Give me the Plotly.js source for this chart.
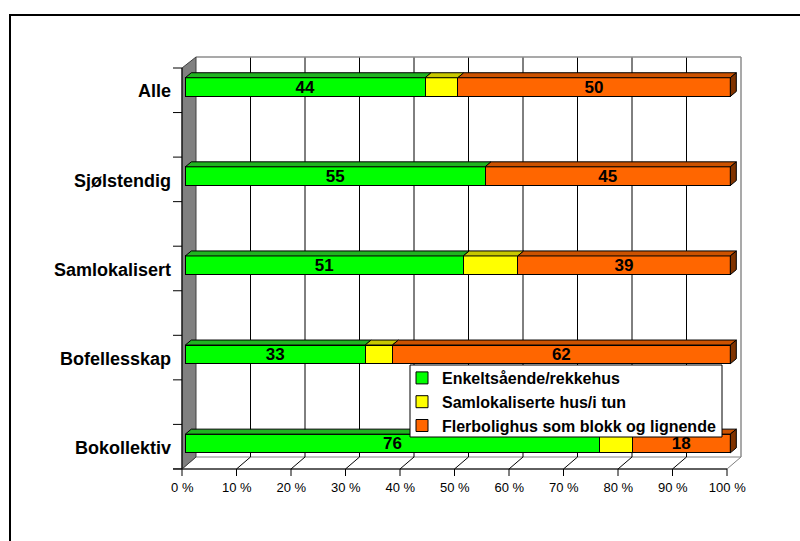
<!DOCTYPE html>
<html>
<head>
<meta charset="utf-8">
<script src="https://cdn.plot.ly/plotly-3.0.1.min.js"></script>
<style>html,body{margin:0;padding:0;background:#fff;}#chart{width:800px;height:541px;}</style>
</head>
<body>
<div id="chart"></div>
<script>
// ---- data ----
const categories = ['Alle', 'Sjølstendig', 'Samlokalisert', 'Bofellesskap', 'Bokollektiv'];
const enkeltsaende = [44, 55, 51, 33, 76];
const samlokaliserte = [6, 0, 10, 5, 6];
const flerbolighus = [50, 45, 39, 62, 18];
const seriesNames = ['Enkeltsående/rekkehus', 'Samlokaliserte hus/i tun', 'Flerbolighus som blokk og lignende'];
const tickValues = [0, 10, 20, 30, 40, 50, 60, 70, 80, 90, 100];
const tickLabels = ['0 %', '10 %', '20 %', '30 %', '40 %', '50 %', '60 %', '70 %', '80 %', '90 %', '100 %'];

// ---- styling ----
const FONT = 'Arial, "Liberation Sans", sans-serif';
const faceColors = ['#00ff00', '#ffff00', '#ff6600'];
const topColors = ['#20b420', '#c8c800', '#cc5200'];
const sideColor = '#803300';

const W = 800, H = 541, L = 182, R = 56, T = 57, B = 72;
const PW = W - L - R, PH = H - T - B;
const kx = 5.45, x0px = 185.3;        // px per percent, px of 0 %
const ky = 89.1, y0px = 443.5;        // px per category, px of first (bottom) category
const xRange = [(L - x0px) / kx, (W - R - x0px) / kx];
const yRange = [-(H - B - y0px) / ky, (y0px - T) / ky];
const BARW = 0.21;
const dxU = 6 / kx, dyU = 5 / ky;     // 3D depth offset of bars

const px = v => (v - L) / PW;         // pixel -> paper x
const py = v => (H - B - v) / PH;     // pixel -> paper y

const order = categories.slice().reverse();
const series = [enkeltsaende, samlokaliserte, flerbolighus];

const traces = series.map((vals, s) => ({
  type: 'bar',
  orientation: 'h',
  name: seriesNames[s],
  legendgroup: 'g' + s,
  y: categories,
  x: vals,
  width: BARW,
  marker: {color: faceColors[s], line: {color: '#000', width: 1}},
  text: s === 1 ? undefined : vals.map(String),
  textposition: s === 1 ? 'none' : 'inside',
  insidetextanchor: 'middle',
  textangle: 0,
  constraintext: 'none',
  insidetextfont: {family: FONT, size: 17, color: '#000', weight: 700},
  hoverinfo: 'skip'
}));

const shapes = [];
const pline = (x0, y0, x1, y1, color, width, layer) => shapes.push({
  type: 'line', xref: 'paper', yref: 'paper',
  x0: px(x0), y0: py(y0), x1: px(x1), y1: py(y1),
  line: {color: color, width: width}, layer: layer || 'below'
});
const ppath = (pts, fill, lineColor, layer) => shapes.push({
  type: 'path', xref: 'paper', yref: 'paper',
  path: 'M' + pts.map(p => px(p[0]) + ',' + py(p[1])).join('L') + 'Z',
  fillcolor: fill, line: {color: lineColor, width: 1}, layer: layer || 'below'
});

// outer frame
shapes.push({type: 'rect', xref: 'paper', yref: 'paper',
  x0: px(10), y0: py(15), x1: px(812), y1: py(560),
  line: {color: '#000', width: 2}, layer: 'below'});

// floor
ppath([[182, 469], [196, 457], [741, 457], [727, 469]], '#ffffff', '#808080');
// back wall gridlines
for (let k = 1; k < 10; k++) pline(196 + 54.5 * k, 457, 196 + 54.5 * k, 57, '#000', 1);
// back wall border
pline(196, 57, 741, 57, '#8c8c8c', 1.5);
pline(741, 57, 741, 457, '#8c8c8c', 1.5);
// floor diagonals and front ticks
for (let k = 0; k <= 10; k++) {
  if (k > 0 && k < 10) pline(182 + 54.5 * k, 469, 196 + 54.5 * k, 457, '#000', 1);
  pline(182 + 54.5 * k, 469, 182 + 54.5 * k, 476, '#000', 1);
}
pline(173, 469, 727, 469, '#000', 1);
// left wall
ppath([[182, 68], [196, 57], [196, 457], [182, 469]], '#808080', '#404040');
pline(182, 68, 182, 469, '#000', 1);
// y tick marks
for (let j = 0; j < 10; j++) pline(173, 68 + 44.55 * j, 182, 68 + 44.55 * j, '#000', 1);

// 3D tops / side of bars computed from data
categories.forEach((c, i) => {
  const yi = order.indexOf(c);
  const yTop = yi + BARW / 2, yBot = yi - BARW / 2;
  let cum = 0;
  series.forEach((vals, s) => {
    const v = vals[i];
    if (v > 0) {
      const a = cum, b = cum + v;
      shapes.push({type: 'path', xref: 'x', yref: 'y2', layer: 'above',
        path: `M${a},${yTop}L${b},${yTop}L${b + dxU},${yTop + dyU}L${a + dxU},${yTop + dyU}Z`,
        fillcolor: topColors[s], line: {color: '#000', width: 1}});
    }
    cum += v;
  });
  shapes.push({type: 'path', xref: 'x', yref: 'y2', layer: 'above',
    path: `M${cum},${yTop}L${cum + dxU},${yTop + dyU}L${cum + dxU},${yBot + dyU}L${cum},${yBot}Z`,
    fillcolor: sideColor, line: {color: '#000', width: 1}});
});

// legend frame (compact, like the original)
shapes.push({type: 'rect', xref: 'paper', yref: 'paper',
  x0: px(410), y0: py(365), x1: px(722), y1: py(437),
  fillcolor: '#ffffff', line: {color: '#000', width: 1}, layer: 'above'});

const layout = {
  width: W, height: H,
  margin: {l: L, r: R, t: T, b: B, pad: 0},
  paper_bgcolor: '#ffffff',
  plot_bgcolor: 'rgba(0,0,0,0)',
  barmode: 'stack',
  bargap: 0,
  font: {family: FONT, color: '#000'},
  showlegend: true,
  legend: {
    x: px(402), y: py(361), xanchor: 'left', yanchor: 'top',
    bgcolor: 'rgba(0,0,0,0)', borderwidth: 0,
    traceorder: 'grouped', tracegroupgap: 0,
    font: {family: FONT, size: 16, color: '#000', weight: 700}
  },
  xaxis: {
    range: xRange, showgrid: false, zeroline: false, showline: false,
    tickmode: 'array', tickvals: tickValues, ticktext: tickLabels,
    ticks: '', ticklabelshift: -3, ticklabelstandoff: 9,
    tickfont: {family: FONT, size: 13, color: '#000'}, fixedrange: true
  },
  yaxis: {
    type: 'category', categoryorder: 'array', categoryarray: order,
    range: yRange, showgrid: false, zeroline: false, showline: false,
    ticks: '', ticklabelstandoff: 10, ticklabelshift: 4,
    tickfont: {family: FONT, size: 18, color: '#000', weight: 700}, fixedrange: true
  },
  yaxis2: {overlaying: 'y', range: yRange, visible: false, fixedrange: true},
  shapes: shapes
};

Plotly.newPlot('chart', traces, layout, {displayModeBar: false, staticPlot: true});
</script>
</body>
</html>
